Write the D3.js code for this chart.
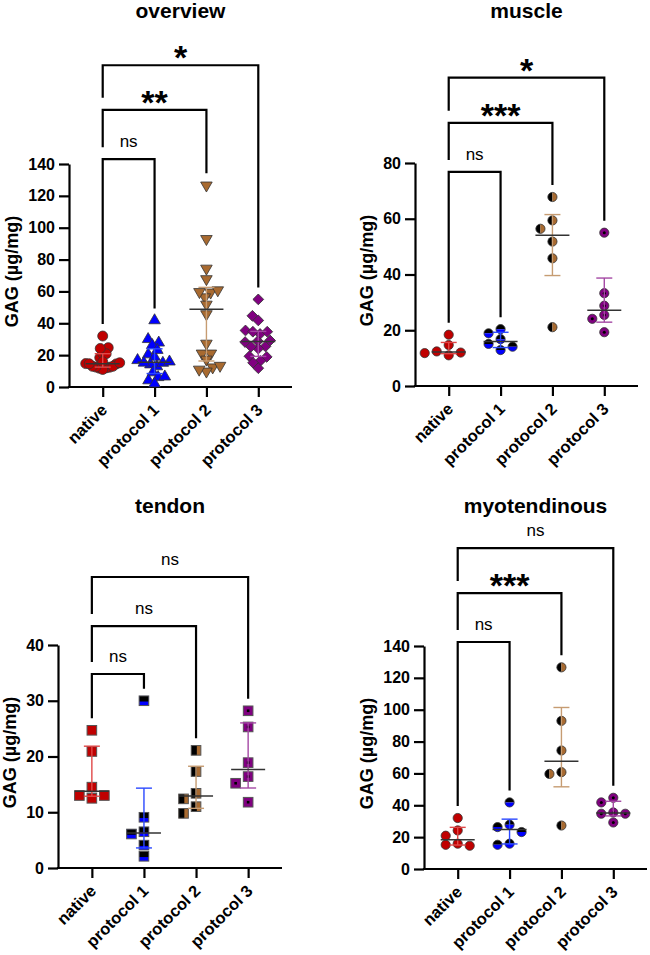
<!DOCTYPE html>
<html>
<head>
<meta charset="utf-8">
<script src="https://cdn.jsdelivr.net/npm/d3@7"></script>
<style>
  body { margin: 0; background: #fff; }
  svg { font-family: "Liberation Sans", Arial, sans-serif; }
</style>
</head>
<body>
<div id="chart"></div>
<script>
// groups on the x axis
var groups = ["native", "protocol 1", "protocol 2", "protocol 3"];

// GAG values (µg/mg) per tissue
var muscleNative = [18.4, 14.7, 12.4, 11.8, 12.0, 11.0];
var muscleP1     = [20.4, 16.8, 12.9, 15.1, 18.9, 14.1];
var muscleP2     = [67.8, 59.4, 56.4, 51.8, 45.8, 21.1];
var muscleP3     = [55.0, 33.3, 28.8, 25.5, 24.1, 19.3];

var tendonNative = [24.7, 20.9, 14.5, 12.5, 13.0, 13.0];
var tendonP1     = [30.0, 9.1, 6.1, 6.5, 4.1, 2.1];
var tendonP2     = [21.1, 17.3, 12.4, 13.4, 9.8, 11.0];
var tendonP3     = [28.2, 25.3, 18.9, 16.4, 15.2, 11.8];

var myoNative = [32.0, 20.9, 24.2, 14.6, 15.9, 15.2];
var myoP1     = [41.8, 27.8, 26.3, 23.2, 15.2, 15.9];
var myoP2     = [126.6, 93.0, 74.4, 60.8, 59.7, 27.3];
var myoP3     = [44.7, 41.8, 35.5, 34.7, 34.7, 29.2];

// the overview pools all three tissues
var overviewNative = muscleNative.concat(tendonNative, myoNative);
var overviewP1 = muscleP1.concat(tendonP1, myoP1);
var overviewP2 = muscleP2.concat(tendonP2, myoP2);
var overviewP3 = muscleP3.concat(tendonP3, myoP3);

// y ticks
var ticks140 = [0, 20, 40, 60, 80, 100, 120, 140];
var ticks80 = [0, 20, 40, 60, 80];
var ticks40 = [0, 10, 20, 30, 40];

// comparisons: [from, to, label, bracket height in data units]
var overviewComp = [["native", "protocol 1", "ns", 143], ["native", "protocol 2", "**", 174], ["native", "protocol 3", "*", 202]];
var muscleComp = [["native", "protocol 1", "ns", 76.8], ["native", "protocol 2", "***", 94.4], ["native", "protocol 3", "*", 110.6]];
var tendonComp = [["native", "protocol 1", "ns", 34.8], ["native", "protocol 2", "ns", 43.4], ["native", "protocol 3", "ns", 52.2]];
var myoComp = [["native", "protocol 1", "ns", 142.5], ["native", "protocol 2", "***", 173.2], ["native", "protocol 3", "ns", 201.4]];

var fillCol = {"native": "#c00000", "protocol 1": "#0000ff", "protocol 2": "#a86a30", "protocol 3": "#800080"};
var barCol = {"native": "#e04848", "protocol 1": "#2a48ff", "protocol 2": "#c69c72", "protocol 3": "#a448a4"};

var svg = d3.select("#chart").append("svg")
    .attr("width", 650)
    .attr("height", 955);

var panels = [
  {title: "overview", data: [overviewNative, overviewP1, overviewP2, overviewP3], ticks: ticks140, comp: overviewComp,
   marker: "overview", left: 69, right: 292, top: 164, bottom: 387, titleY: 18, tight: 7.5, maxSpread: 17},
  {title: "muscle", data: [muscleNative, muscleP1, muscleP2, muscleP3], ticks: ticks80, comp: muscleComp,
   marker: "circle", left: 415, right: 638, top: 163, bottom: 386, titleY: 18, minDy: 8.5, step: 12},
  {title: "tendon", data: [tendonNative, tendonP1, tendonP2, tendonP3], ticks: ticks40, comp: tendonComp,
   marker: "square", left: 58, right: 282, top: 645, bottom: 868, titleY: 513, minDy: 9.5, step: 12.5},
  {title: "myotendinous", data: [myoNative, myoP1, myoP2, myoP3], ticks: ticks140, comp: myoComp,
   marker: "circle", left: 424, right: 647, top: 646, bottom: 869, titleY: 513, minDy: 8.5, step: 12}
];

// GraphPad style quartiles (n+1 method)
function quart(sorted, p) {
  var pos = p * (sorted.length + 1);
  var lo = Math.floor(pos), f = pos - lo;
  if (lo < 1) return sorted[0];
  if (lo >= sorted.length) return sorted[sorted.length - 1];
  return sorted[lo - 1] + f * (sorted[lo] - sorted[lo - 1]);
}

function byValue(vals, desc) {
  return vals.map(function(v, i) { return i; })
    .sort(function(a, b) { return desc ? vals[b] - vals[a] : vals[a] - vals[b]; });
}

// spread points sideways in columns when they would overlap
function swarm(vals, y, minDy, step) {
  var placed = [], off = [];
  byValue(vals, true).forEach(function(i) {
    var py = y(vals[i]);
    for (var k = 0; k < 20; k++) {
      var c = k === 0 ? 0 : (k % 2 ? -1 : 1) * Math.ceil(k / 2) * step;
      var clash = placed.some(function(p) { return p.x === c && Math.abs(p.y - py) < minDy; });
      if (!clash) { off[i] = c; placed.push({x: c, y: py}); break; }
    }
  });
  return off;
}

// compact beeswarm for the crowded overview, squeezed to a max width
function swarmTight(vals, y, D, maxSpread) {
  var placed = [], off = [];
  byValue(vals, false).forEach(function(i) {
    var py = y(vals[i]);
    var cands = [0];
    placed.forEach(function(p) {
      var dy = Math.abs(p.y - py);
      if (dy < D) {
        var dx = Math.sqrt(D * D - dy * dy) + 0.01;
        cands.push(p.x + dx, p.x - dx);
      }
    });
    cands.sort(function(a, b) { return Math.abs(a) - Math.abs(b) || a - b; });
    for (var k = 0; k < cands.length; k++) {
      var c = cands[k];
      var ok = placed.every(function(p) {
        return (p.x - c) * (p.x - c) + (p.y - py) * (p.y - py) >= D * D - 0.01;
      });
      if (ok) { off[i] = c; placed.push({x: c, y: py}); break; }
    }
  });
  var widest = d3.max(off, function(o) { return Math.abs(o); });
  var k = widest > maxSpread ? maxSpread / widest : 1;
  return off.map(function(o) { return o * k; });
}

function drawMarker(g, kind, grp) {
  var col = fillCol[grp], stroke = "#333", sw = 0.8;
  if (kind === "overview") {
    if (grp === "native") {
      g.append("circle").attr("r", 5).attr("fill", col).attr("stroke", stroke).attr("stroke-width", sw);
    } else if (grp === "protocol 1" || grp === "protocol 2") {
      g.append("path").attr("d", d3.symbol(d3.symbolTriangle, 58)())
        .attr("transform", grp === "protocol 2" ? "rotate(180)" : null)
        .attr("fill", col).attr("stroke", stroke).attr("stroke-width", sw);
    } else {
      g.append("path").attr("d", d3.symbol(d3.symbolSquare, 58)())
        .attr("transform", "rotate(45)")
        .attr("fill", col).attr("stroke", stroke).attr("stroke-width", sw);
    }
  } else if (kind === "circle") {
    var r = 4.6, arc = d3.arc().innerRadius(0).outerRadius(r);
    if (grp === "native") {
      g.append("circle").attr("r", r).attr("fill", col);
    } else if (grp === "protocol 1") {
      g.append("path").attr("d", arc({startAngle: -Math.PI / 2, endAngle: Math.PI / 2})).attr("fill", "#000");
      g.append("path").attr("d", arc({startAngle: Math.PI / 2, endAngle: 3 * Math.PI / 2})).attr("fill", col);
    } else if (grp === "protocol 2") {
      g.append("path").attr("d", arc({startAngle: Math.PI, endAngle: 2 * Math.PI})).attr("fill", "#000");
      g.append("path").attr("d", arc({startAngle: 0, endAngle: Math.PI})).attr("fill", col);
    } else {
      g.append("circle").attr("r", r).attr("fill", col);
      g.append("circle").attr("r", 1.5).attr("fill", "#000");
    }
    g.append("circle").attr("r", r).attr("fill", "none").attr("stroke", stroke).attr("stroke-width", sw);
  } else {
    var s = 9.6, h = s / 2;
    g.append("rect").attr("x", -h).attr("y", -h).attr("width", s).attr("height", s).attr("fill", col);
    if (grp === "protocol 1") {
      g.append("rect").attr("x", -h).attr("y", -h).attr("width", s).attr("height", s * 0.58).attr("fill", "#000");
    } else if (grp === "protocol 2") {
      g.append("rect").attr("x", -h).attr("y", -h).attr("width", s * 0.58).attr("height", s).attr("fill", "#000");
    } else if (grp === "protocol 3") {
      g.append("rect").attr("x", -1.3).attr("y", -1.3).attr("width", 2.6).attr("height", 2.6).attr("fill", "#000");
    }
    g.append("rect").attr("x", -h).attr("y", -h).attr("width", s).attr("height", s)
      .attr("fill", "none").attr("stroke", "#555").attr("stroke-width", 1);
  }
}

panels.forEach(function(p) {
  var x = d3.scalePoint().domain(groups).range([p.left, p.right]).padding(0.65);
  var y = d3.scaleLinear().domain([0, p.ticks[p.ticks.length - 1]]).range([p.bottom, p.top]);
  var g = svg.append("g");

  // title
  g.append("text")
    .attr("x", (p.left + p.right) / 2)
    .attr("y", p.titleY)
    .attr("text-anchor", "middle")
    .style("font-size", "21px")
    .style("font-weight", "bold")
    .text(p.title);

  // y axis
  var yAxis = g.append("g")
    .attr("transform", "translate(" + p.left + ",0)")
    .call(d3.axisLeft(y).tickValues(p.ticks).tickSize(10).tickPadding(4).tickSizeOuter(0));
  yAxis.select(".domain").attr("stroke-width", 2.2);
  yAxis.selectAll(".tick line").attr("stroke-width", 2.2);
  yAxis.selectAll(".tick text").style("font-size", "16px").style("font-weight", "bold").attr("fill", "#000");

  // x axis
  var xAxis = g.append("g")
    .attr("transform", "translate(0," + p.bottom + ")")
    .call(d3.axisBottom(x).tickSize(10).tickSizeOuter(0).tickFormat(""));
  xAxis.select(".domain").attr("stroke-width", 2.2)
    .attr("d", "M" + (p.left - 1.1) + ",0H" + p.right);
  xAxis.selectAll(".tick line").attr("stroke-width", 2.2);
  xAxis.selectAll(".tick").append("text")
    .attr("fill", "#000")
    .attr("text-anchor", "end")
    .attr("transform", "translate(5,24) rotate(-45)")
    .style("font-size", "16.5px")
    .style("font-weight", "bold")
    .text(function(d) { return d; });

  // y label, placed left of the tick labels
  var lx = yAxis.node().getBBox().x + p.left - 10;
  g.append("text")
    .attr("transform", "translate(" + lx + "," + ((p.top + p.bottom) / 2 - 4) + ") rotate(-90)")
    .attr("text-anchor", "middle")
    .style("font-size", "18px")
    .style("font-weight", "bold")
    .text("GAG (µg/mg)");

  // points and median + interquartile range
  groups.forEach(function(grp, gi) {
    var vals = p.data[gi];
    var sorted = vals.slice().sort(d3.ascending);
    var med = quart(sorted, 0.5), q1 = quart(sorted, 0.25), q3 = quart(sorted, 0.75);
    var cx = x(grp);
    var off = p.tight ? swarmTight(vals, y, p.tight, p.maxSpread) : swarm(vals, y, p.minDy, p.step);

    g.append("g").selectAll("g")
      .data(vals)
      .enter().append("g")
        .attr("transform", function(d, i) { return "translate(" + (cx + off[i]) + "," + y(d) + ")"; })
        .each(function() { drawMarker(d3.select(this), p.marker, grp); });

    var eb = g.append("g").attr("stroke", barCol[grp]).attr("stroke-width", 1.4);
    eb.append("line").attr("x1", cx).attr("x2", cx).attr("y1", y(q1)).attr("y2", y(q3));
    eb.append("line").attr("x1", cx - 8).attr("x2", cx + 8).attr("y1", y(q1)).attr("y2", y(q1));
    eb.append("line").attr("x1", cx - 8).attr("x2", cx + 8).attr("y1", y(q3)).attr("y2", y(q3));
    g.append("line")
      .attr("x1", cx - 17).attr("x2", cx + 17)
      .attr("y1", y(med)).attr("y2", y(med))
      .attr("stroke", "#333").attr("stroke-width", 1.5);
  });

  // significance brackets
  var maxOf = {};
  groups.forEach(function(grp, gi) { maxOf[grp] = d3.max(p.data[gi]); });
  p.comp.forEach(function(c, ci) {
    var x1 = x(c[0]), x2 = x(c[1]), yb = y(c[3]);
    var leftEnd = ci > 0 ? y(p.comp[ci - 1][3]) - 12 : y(maxOf[c[0]]) - 12;
    var rightEnd = y(maxOf[c[1]]) - 12;
    g.append("path")
      .attr("d", "M" + x1 + "," + leftEnd + "V" + yb + "H" + x2 + "V" + rightEnd)
      .attr("fill", "none")
      .attr("stroke", "#000")
      .attr("stroke-width", 2.2);
    var star = c[2] !== "ns";
    g.append("text")
      .attr("x", (x1 + x2) / 2)
      .attr("y", star ? yb + 4 : yb - 12)
      .attr("text-anchor", "middle")
      .style("font-size", star ? "34px" : "17px")
      .style("font-weight", star ? "bold" : "normal")
      .text(c[2]);
  });
});
</script>
</body>
</html>
